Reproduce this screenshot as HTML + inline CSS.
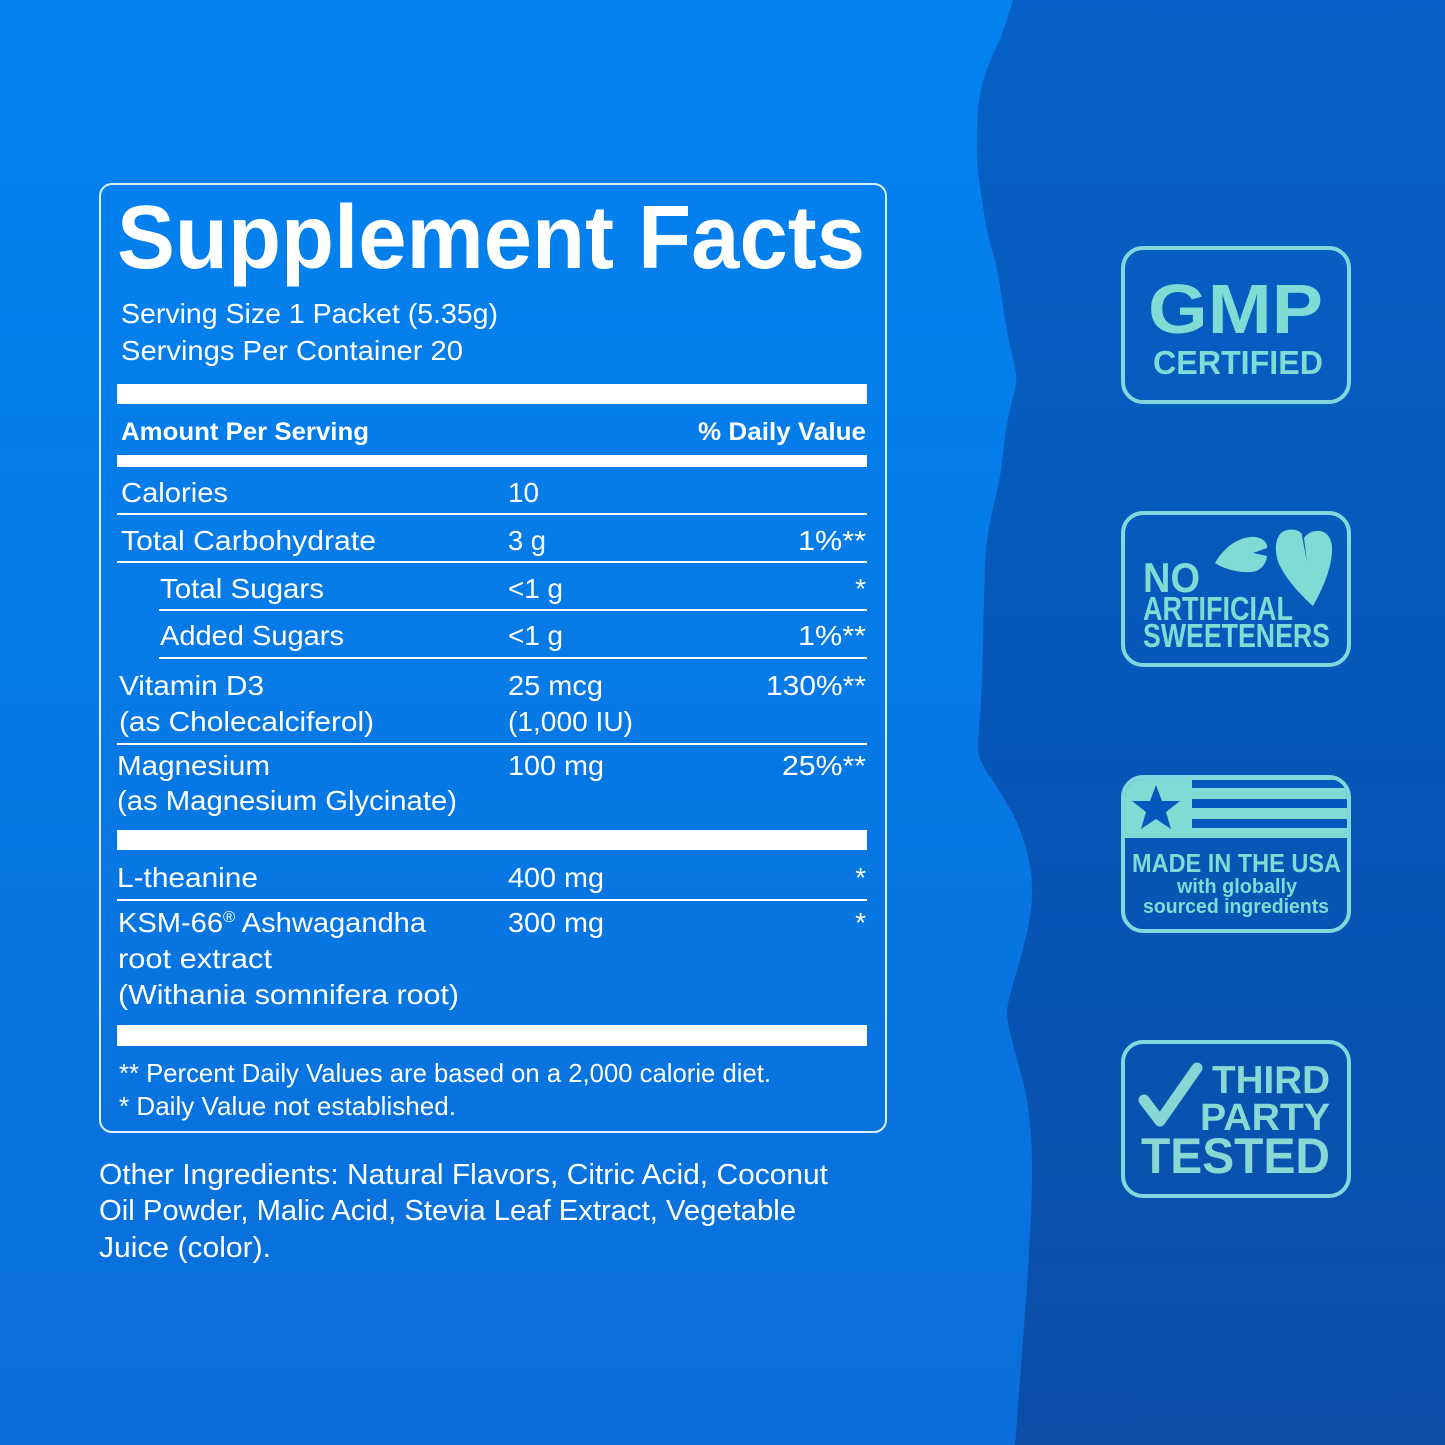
<!DOCTYPE html>
<html><head><meta charset="utf-8"><style>
html,body{margin:0;padding:0;background:#0679e6;}
svg{display:block;}
text{font-family:"Liberation Sans",sans-serif;}
</style></head><body>
<svg width="1445" height="1445" viewBox="0 0 1445 1445" xmlns="http://www.w3.org/2000/svg">
<defs>
<linearGradient id="gl" x1="0" y1="0" x2="0" y2="1">
<stop offset="0" stop-color="#0283f0"/><stop offset="0.5" stop-color="#0679e6"/><stop offset="1" stop-color="#0a6ed9"/>
</linearGradient>
<linearGradient id="gr" x1="0" y1="0" x2="0" y2="1">
<stop offset="0" stop-color="#0561c7"/><stop offset="0.5" stop-color="#0757b8"/><stop offset="1" stop-color="#0a4ea8"/>
</linearGradient>
<clipPath id="usaclip"><rect x="1125" y="779" width="222" height="150" rx="18"/></clipPath>
</defs>
<rect width="1445" height="1445" fill="url(#gl)"/>
<path fill="url(#gr)" d="M1013,0 L1008,16.5 Q1003,33 995,50 Q987,67 982.5,83.5 Q978,100 977.5,116.5 Q977,133 977,150 Q977,167 979.5,183.5 Q982,200 984.5,216.5 Q987,233 992,250 Q997,267 999.5,283.5 Q1002,300 1004.5,316.5 Q1007,333 1011,350 Q1015,367 1016,375 Q1017,383 1014.5,391.5 Q1012,400 1008.5,416.5 Q1005,433 1003.5,450 Q1002,467 998.5,483.5 Q995,500 991.5,515 Q988,530 986.5,545 Q985,560 984.5,580 Q984,600 983.5,620 Q983,640 982.5,660 Q982,680 981,700 Q980,720 979,730 Q978,740 978,746.5 Q978,753 980.5,760 Q983,767 990,777 Q997,787 1007,803.5 Q1017,820 1022.5,836.5 Q1028,853 1030.5,870 Q1033,887 1031.5,903.5 Q1030,920 1026,936.5 Q1022,953 1017,970 Q1012,987 1009.5,997 Q1007,1007 1007,1013.5 Q1007,1020 1011,1036.5 Q1015,1053 1020,1070 Q1025,1087 1027.5,1103.5 Q1030,1120 1031,1136.5 Q1032,1153 1032,1170 Q1032,1187 1031.5,1203.5 Q1031,1220 1029,1253.5 Q1027,1287 1024.5,1320 Q1022,1353 1019.5,1386.5 Q1017,1420 1016,1432.5 L1015,1445 L1445,1445 L1445,0 Z"/>

<!-- Supplement facts box -->
<rect x="100" y="184" width="786" height="948" rx="12" fill="none" stroke="#dcefff" stroke-width="2"/>
<g fill="#ffffff">
<text x="117" y="268" font-size="90" font-weight="bold" textLength="748" lengthAdjust="spacingAndGlyphs">Supplement Facts</text>
<text x="121" y="323" font-size="28" textLength="377" lengthAdjust="spacingAndGlyphs">Serving Size 1 Packet (5.35g)</text>
<text x="121" y="360" font-size="28" textLength="342" lengthAdjust="spacingAndGlyphs">Servings Per Container 20</text>
<rect x="117" y="384" width="750" height="20"/>
<text x="121" y="440" font-size="25" font-weight="bold" textLength="248" lengthAdjust="spacingAndGlyphs">Amount Per Serving</text>
<text x="866" y="440" font-size="25" font-weight="bold" text-anchor="end" textLength="168" lengthAdjust="spacingAndGlyphs">% Daily Value</text>
<rect x="117" y="455" width="750" height="12"/>

<text x="121" y="502" font-size="28" textLength="107" lengthAdjust="spacingAndGlyphs">Calories</text>
<text x="508" y="502" font-size="28" textLength="31" lengthAdjust="spacingAndGlyphs">10</text>
<rect x="117" y="513" width="750" height="2"/>

<text x="121" y="550" font-size="28" textLength="255" lengthAdjust="spacingAndGlyphs">Total Carbohydrate</text>
<text x="508" y="550" font-size="28" textLength="38" lengthAdjust="spacingAndGlyphs">3 g</text>
<text x="866" y="550" font-size="28" text-anchor="end" textLength="68" lengthAdjust="spacingAndGlyphs">1%**</text>
<rect x="117" y="561" width="750" height="2"/>

<text x="160" y="598" font-size="28" textLength="164" lengthAdjust="spacingAndGlyphs">Total Sugars</text>
<text x="508" y="598" font-size="28" textLength="55" lengthAdjust="spacingAndGlyphs">&lt;1 g</text>
<text x="866" y="598" font-size="28" text-anchor="end">*</text>
<rect x="159" y="609" width="708" height="2"/>

<text x="160" y="645" font-size="28" textLength="184" lengthAdjust="spacingAndGlyphs">Added Sugars</text>
<text x="508" y="645" font-size="28" textLength="55" lengthAdjust="spacingAndGlyphs">&lt;1 g</text>
<text x="866" y="645" font-size="28" text-anchor="end" textLength="68" lengthAdjust="spacingAndGlyphs">1%**</text>
<rect x="159" y="657" width="708" height="2"/>

<text x="119" y="695" font-size="28" textLength="145" lengthAdjust="spacingAndGlyphs">Vitamin D3</text>
<text x="508" y="695" font-size="28" textLength="95" lengthAdjust="spacingAndGlyphs">25 mcg</text>
<text x="866" y="695" font-size="28" text-anchor="end" textLength="100" lengthAdjust="spacingAndGlyphs">130%**</text>
<text x="119" y="731" font-size="28" textLength="255" lengthAdjust="spacingAndGlyphs">(as Cholecalciferol)</text>
<text x="508" y="731" font-size="28" textLength="125" lengthAdjust="spacingAndGlyphs">(1,000 IU)</text>
<rect x="117" y="743" width="750" height="2"/>

<text x="117" y="775" font-size="28" textLength="153" lengthAdjust="spacingAndGlyphs">Magnesium</text>
<text x="508" y="775" font-size="28" textLength="96" lengthAdjust="spacingAndGlyphs">100 mg</text>
<text x="866" y="775" font-size="28" text-anchor="end" textLength="84" lengthAdjust="spacingAndGlyphs">25%**</text>
<text x="117" y="810" font-size="28" textLength="340" lengthAdjust="spacingAndGlyphs">(as Magnesium Glycinate)</text>
<rect x="117" y="830" width="750" height="20"/>

<text x="117" y="887" font-size="28" textLength="141" lengthAdjust="spacingAndGlyphs">L-theanine</text>
<text x="508" y="887" font-size="28" textLength="96" lengthAdjust="spacingAndGlyphs">400 mg</text>
<text x="866" y="887" font-size="28" text-anchor="end">*</text>
<rect x="117" y="899" width="750" height="2"/>

<text x="118" y="932" font-size="28" textLength="308" lengthAdjust="spacingAndGlyphs">KSM-66<tspan font-size="16" dy="-10">®</tspan><tspan dy="10"> Ashwagandha</tspan></text>
<text x="508" y="932" font-size="28" textLength="96" lengthAdjust="spacingAndGlyphs">300 mg</text>
<text x="866" y="932" font-size="28" text-anchor="end">*</text>
<text x="118" y="968" font-size="28" textLength="154" lengthAdjust="spacingAndGlyphs">root extract</text>
<text x="118" y="1004" font-size="28" textLength="341" lengthAdjust="spacingAndGlyphs">(Withania somnifera root)</text>
<rect x="117" y="1025" width="750" height="21"/>

<text x="119" y="1082" font-size="26" textLength="652" lengthAdjust="spacingAndGlyphs">** Percent Daily Values are based on a 2,000 calorie diet.</text>
<text x="119" y="1115" font-size="26" textLength="337" lengthAdjust="spacingAndGlyphs">* Daily Value not established.</text>

<text x="99" y="1184" font-size="29" textLength="729" lengthAdjust="spacingAndGlyphs">Other Ingredients: Natural Flavors, Citric Acid, Coconut</text>
<text x="99" y="1220" font-size="29" textLength="697" lengthAdjust="spacingAndGlyphs">Oil Powder, Malic Acid, Stevia Leaf Extract, Vegetable</text>
<text x="99" y="1257" font-size="29" textLength="172" lengthAdjust="spacingAndGlyphs">Juice (color).</text>
</g>

<!-- Badges -->
<g fill="none" stroke="#82d7dc" stroke-width="4">
<rect x="1123" y="248" width="226" height="154" rx="20"/>
<rect x="1123" y="513" width="226" height="152" rx="20"/>
<rect x="1123" y="777" width="226" height="154" rx="20"/>
<rect x="1123" y="1042" width="226" height="154" rx="20"/>
</g>
<g fill="#7fdbd4" font-weight="bold">
<text x="1148" y="333" font-size="70" textLength="175" lengthAdjust="spacingAndGlyphs">GMP</text>
<text x="1153" y="374" font-size="33" textLength="170" lengthAdjust="spacingAndGlyphs">CERTIFIED</text>

<text x="1143" y="592" font-size="42" textLength="57" lengthAdjust="spacingAndGlyphs">NO</text>
<text x="1143" y="620" font-size="33" textLength="150" lengthAdjust="spacingAndGlyphs">ARTIFICIAL</text>
<text x="1143" y="647" font-size="33" textLength="187" lengthAdjust="spacingAndGlyphs">SWEETENERS</text>
<path d="M1215,563 C1225,546 1240,536 1255,537 C1263,538 1268,543 1267,548 L1253,553 L1267,556 C1266,565 1260,571 1252,572 C1238,573 1224,569 1215,563 Z"/>
<path d="M1302,534 C1297,528 1286,528 1280,534 C1274,542 1275,556 1280,566 C1288,582 1302,596 1313,606 C1322,590 1331,570 1332,552 C1333,538 1326,530 1317,531 C1311,531 1307,534 1304,538 L1307,562 L1302,536 Z"/>

<g clip-path="url(#usaclip)">
<rect x="1120" y="775" width="235" height="63"/>
<rect x="1192" y="780" width="160" height="8" fill="#0658bf"/>
<rect x="1192" y="799" width="160" height="9" fill="#0658bf"/>
<rect x="1192" y="819" width="160" height="9" fill="#0658bf"/>
</g>
<path fill="#0658bf" d="M1156,785 L1162,801 L1180,801 L1166,812 L1171,829 L1156,819 L1141,829 L1146,812 L1132,801 L1150,801 Z"/>
<text x="1132" y="872" font-size="26" textLength="209" lengthAdjust="spacingAndGlyphs">MADE IN THE USA</text>
<text x="1237" y="893" font-size="20" text-anchor="middle" textLength="120" lengthAdjust="spacingAndGlyphs">with globally</text>
<text x="1236" y="913" font-size="20" text-anchor="middle" textLength="186" lengthAdjust="spacingAndGlyphs">sourced ingredients</text>

<polyline points="1144,1100 1160,1121 1197,1068" fill="none" stroke="#86d6d3" stroke-width="11" stroke-linecap="round" stroke-linejoin="round"/>
<text x="1212" y="1093" font-size="39" fill="#88d8d3" textLength="118" lengthAdjust="spacingAndGlyphs">THIRD</text>
<text x="1200" y="1130" font-size="38" fill="#88d8d3" textLength="130" lengthAdjust="spacingAndGlyphs">PARTY</text>
<text x="1141" y="1173" font-size="50" fill="#88d8d3" textLength="189" lengthAdjust="spacingAndGlyphs">TESTED</text>
</g>
</svg>
</body></html>
